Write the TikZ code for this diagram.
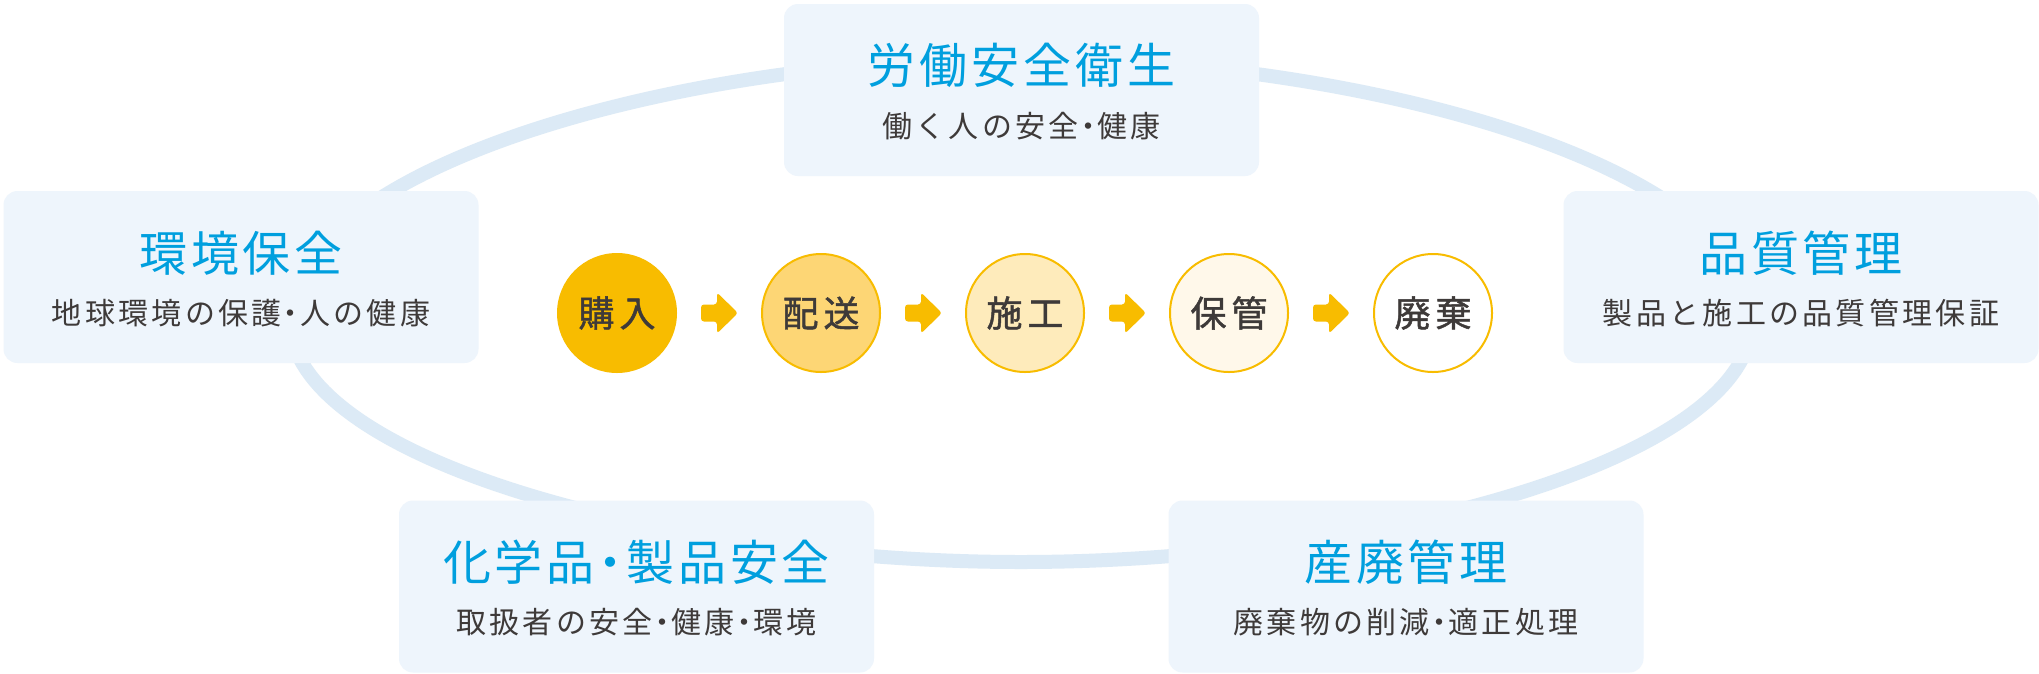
\documentclass[tikz,border=0pt]{standalone}
\usepackage{fontspec}
\setmainfont{Noto Sans CJK JP}
\newfontfamily\jptitle[LetterSpace=8]{Noto Sans CJK JP}
\newfontfamily\jpsub[LetterSpace=11]{Noto Sans CJK JP}
\newfontfamily\jpcirc[LetterSpace=14, FakeBold=1.3]{Noto Sans CJK JP}
\usetikzlibrary{calc}
\definecolor{ringblue}{RGB}{220,234,246}
\definecolor{boxfill}{RGB}{238,245,252}
\definecolor{titleblue}{RGB}{0,159,222}
\definecolor{textdark}{RGB}{62,58,57}
\definecolor{gold}{RGB}{248,188,0}
\definecolor{fillA}{RGB}{248,188,0}
\definecolor{fillB}{RGB}{253,214,117}
\definecolor{fillC}{RGB}{254,235,187}
\definecolor{fillD}{RGB}{255,248,234}
\newcommand\dotT{\kern-0.17em・\kern-0.17em}
\newcommand\dotS{\kern-0.19em・\kern-0.19em}
\tikzset{
  topicbox/.style={rectangle, rounded corners=14pt, fill=boxfill, minimum width=475pt, minimum height=172pt, inner sep=0pt},
  titletext/.style={inner sep=0pt, text=titleblue, font=\jptitle\fontsize{48}{52}\selectfont},
  subtext/.style={inner sep=0pt, text=textdark, font=\jpsub\fontsize{30}{34}\selectfont},
  stepcircle/.style={circle, draw=gold, line width=2pt, minimum size=118pt, inner sep=0pt, text=textdark, font=\jpcirc\fontsize{36}{40}\selectfont},
  ringline/.style={draw=ringblue, line width=14pt},
  blockarrow/.style={fill=gold, rounded corners=3pt}
}
\begin{document}
\begin{tikzpicture}[x=1pt,y=-1pt]
\fill[white] (0,0) rectangle (2039,673);
\useasboundingbox (0,0) rectangle (2039,673);
% ring
\coordinate (rtop) at (1021,58);
\coordinate (rleft) at (290,320);
\coordinate (rbot) at (1021,562);
\coordinate (rright) at (1752,320);
\draw[ringline] (rtop) .. controls (671,58) and (290,170) .. (rleft)
  .. controls (290,460) and (671,562) .. (rbot)
  .. controls (1371,562) and (1752,460) .. (rright)
  .. controls (1752,170) and (1371,58) .. (rtop) -- cycle;
% topic boxes
\node[topicbox] (labor) at (1021.5,90) {};
\node[topicbox] (env) at (241,277) {};
\node[topicbox] (quality) at (1801,277) {};
\node[topicbox] (chem) at (636.5,586.5) {};
\node[topicbox] (waste) at (1406,586.5) {};
\node[titletext] (laborT) at ($(labor.north)+(0,62)$) {労働安全衛生};
\node[subtext] (laborS) at ($(labor.north)+(0,122)$) {働く人の安全\dotS 健康};
\node[titletext] (envT) at ($(env.north)+(0,62)$) {環境保全};
\node[subtext] (envS) at ($(env.north)+(0,122)$) {地球環境の保護\dotS 人の健康};
\node[titletext] (qualityT) at ($(quality.north)+(0,62)$) {品質管理};
\node[subtext] (qualityS) at ($(quality.north)+(0,122)$) {製品と施工の品質管理保証};
\node[titletext] (chemT) at ($(chem.north)+(0,62)$) {化学品\dotT 製品安全};
\node[subtext] (chemS) at ($(chem.north)+(0,122)$) {取扱者の安全\dotS 健康\dotS 環境};
\node[titletext] (wasteT) at ($(waste.north)+(0,62)$) {産廃管理};
\node[subtext] (wasteS) at ($(waste.north)+(0,122)$) {廃棄物の削減\dotS 適正処理};
% steps
\node[stepcircle, fill=fillA] (s1) at (617,313) {購入};
\node[stepcircle, fill=fillB] (s2) at (821,313) {配送};
\node[stepcircle, fill=fillC] (s3) at (1025,313) {施工};
\node[stepcircle, fill=fillD] (s4) at (1229,313) {保管};
\node[stepcircle, fill=white] (s5) at (1433,313) {廃棄};
\foreach \a/\b/\m in {s1/s2/m1, s2/s3/m2, s3/s4/m3, s4/s5/m4}{
  \path (\a) -- (\b) coordinate[midway] (\m);
  \fill[blockarrow, shift={(\m)}] (-18,-8.5) -- (-2,-8.5) -- (-2,-20.5) -- (19,0) -- (-2,20.5) -- (-2,8.5) -- (-18,8.5) -- cycle;
}
\end{tikzpicture}
\end{document}
